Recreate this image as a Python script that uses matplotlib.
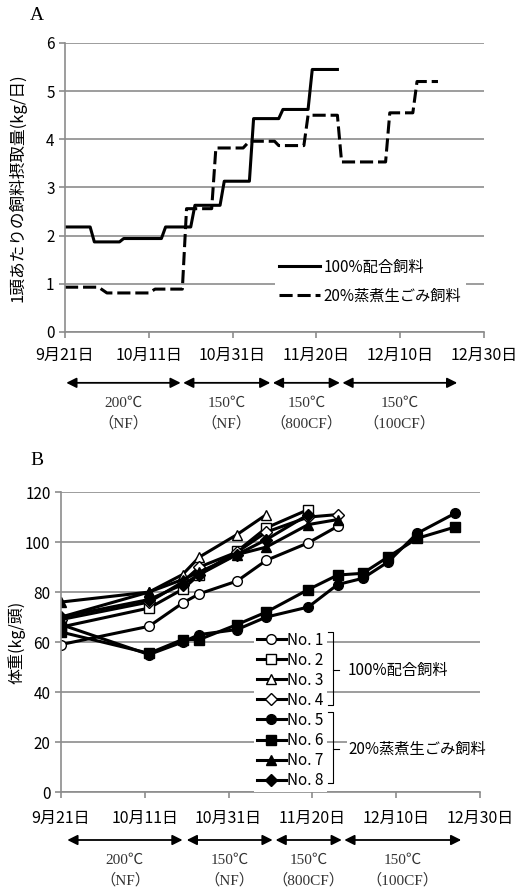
import matplotlib
matplotlib.use("Agg")
import matplotlib.pyplot as plt
from matplotlib.lines import Line2D

plt.rcParams['font.family'] = ['Noto Sans CJK JP', 'DejaVu Sans']
SERIF = ['Liberation Serif', 'Noto Sans CJK JP']

# ----- data (days counted from 9月21日) -----
date_labels = ["9月21日", "10月11日", "10月31日", "11月20日", "12月10日", "12月30日"]
date_ticks = [0, 20, 40, 60, 80, 100]

# A: feed intake per head (kg/day), step vertices
ctrl_days = [0, 6, 7, 13, 14, 23, 24, 30, 31, 37, 38, 44, 45, 51, 52, 58, 59, 65]
ctrl_vals = [2.18, 2.18, 1.87, 1.87, 1.94, 1.94, 2.18, 2.18, 2.63, 2.63,
             3.13, 3.13, 4.43, 4.43, 4.62, 4.62, 5.45, 5.45]
waste_days = [0, 8, 10, 20, 21.5, 28, 29, 35, 36, 42.5, 44, 50, 51, 57,
              58, 65, 66, 76.5, 77.5, 83, 84, 89]
waste_vals = [0.93, 0.93, 0.81, 0.81, 0.89, 0.89, 2.56, 2.56, 3.82, 3.82,
              3.96, 3.96, 3.87, 3.87, 4.50, 4.50, 3.53, 3.53, 4.55, 4.55,
              5.20, 5.20]

# B: body weight (kg/head)
weigh_days = [0, 21, 29, 33, 42, 49, 59, 66, 72, 78, 85, 94]
pig1 = [59, 66.3, 75.6, 79.3, 84.4, 92.7, 99.7, 106.3]
pig2 = [66, 73.6, 81.1, 87, 96.3, 105.7, 113]
pig3 = [70, 80, 87, 94, 103, 111]
pig4 = [69, 76, 84, 90, 96, 104, 110, 111]
pig5 = [67, 55, 60, 63, 65, 70, 74, 83, 85.5, 92, 103.5, 111.5]
pig6 = [64, 55.5, 61, 61, 67, 72, 81, 86.8, 87.5, 94, 101.5, 106]
pig7 = [76, 80, 85, 88, 95, 98, 107, 109]
pig8 = [70, 77, 83, 87, 95, 101, 111]

# feeding periods (temperature / fermentation)
period_a = [(0.3, 27.6), (28.2, 49.0), (49.6, 65.6), (66.2, 93.6)]
period_b = [(1.5, 29.0), (30.0, 50.5), (51.2, 67.0), (67.6, 95.5)]
period_temp = ["200℃", "150℃", "150℃", "150℃"]
period_type = ["（NF）", "（NF）", "（800CF）", "（100CF）"]

GRID = "#8c8c8c"


def style_axes(ax, ymax, ystep):
    ax.set_xlim(0, 100)
    ax.set_ylim(0, ymax)
    ax.set_yticks(range(0, ymax + 1, ystep))
    ax.set_xticks(date_ticks)
    ax.set_xticklabels(date_labels, fontsize=11.5)
    ax.yaxis.grid(True, color=GRID, lw=1.2)
    ax.set_axisbelow(True)
    for s in ["top", "right"]:
        ax.spines[s].set_visible(False)
    for s in ["left", "bottom"]:
        ax.spines[s].set_color(GRID)
        ax.spines[s].set_linewidth(1.2)
    ax.tick_params(axis="both", color=GRID, width=1.2, length=4)
    ax.tick_params(axis="y", labelsize=11)


def periods(ax, spans, y_arrow, y_t1, y_t2):
    tr = ax.get_xaxis_transform()
    for (x0, x1), t1, t2 in zip(spans, period_temp, period_type):
        ax.annotate("", xy=(x1, y_arrow), xytext=(x0, y_arrow), xycoords=tr,
                    textcoords=tr, annotation_clip=False,
                    arrowprops=dict(arrowstyle="<|-|>", color="black", lw=1.3,
                                    mutation_scale=15, shrinkA=0, shrinkB=0))
        xm = (x0 + x1) / 2
        ax.text(xm, y_t1, t1, transform=tr, ha="center", va="center",
                fontsize=11, family=SERIF, color="#333333")
        ax.text(xm, y_t2, t2, transform=tr, ha="center", va="center",
                fontsize=11, family=SERIF, color="#333333")


fig = plt.figure(figsize=(5.18, 8.9), dpi=100)

# ==========================================================
# A. feed intake
# ==========================================================
axA = fig.add_axes([0.1255, 0.627, 0.809, 0.3247])
style_axes(axA, 6, 1)
axA.tick_params(axis="x", pad=7)
axA.plot(ctrl_days, ctrl_vals, color="black", lw=2.2, label="100%配合飼料")
axA.plot(waste_days, waste_vals, color="black", lw=2.2, dashes=(4.3, 1.6),
         label="20%蒸煮生ごみ飼料")
axA.set_ylabel("1頭あたりの飼料摂取量(kg/日)", fontsize=12)
axA.yaxis.set_label_coords(-0.092, 0.5)
legA = axA.legend(loc="upper left", bbox_to_anchor=(0.50, 0.27), fontsize=11,
                  frameon=True, fancybox=False, edgecolor="none", framealpha=1,
                  handlelength=2.7, handletextpad=0.2, labelspacing=0.8,
                  borderpad=0.3, borderaxespad=0)
periods(axA, period_a, -0.176, -0.246, -0.315)
fig.text(0.072, 0.983, "A", family=SERIF, fontsize=14, ha="center", va="center")

# ==========================================================
# B. body weight
# ==========================================================
axB = fig.add_axes([0.1178, 0.1101, 0.809, 0.337])
style_axes(axB, 120, 20)
axB.tick_params(axis="x", pad=9)

pigs = [pig1, pig2, pig3, pig4, pig5, pig6, pig7, pig8]
markers = ["o", "s", "^", "D", "o", "s", "^", "D"]
sizes = [7, 7, 7.5, 6, 7, 7, 7.5, 6]
for i, (w, m, ms) in enumerate(zip(pigs, markers, sizes)):
    face = "white" if i < 4 else "black"
    axB.plot(weigh_days[:len(w)], w, color="black", lw=2.2, marker=m, ms=ms,
             mfc=face, mec="black", mew=1.0, label="No. %d" % (i + 1))

axB.set_ylabel("体重(kg/頭)", fontsize=11.5)
axB.yaxis.set_label_coords(-0.085, 0.5)
legB = axB.legend(loc="upper left", bbox_to_anchor=(0.46, 0.545), fontsize=11,
                  frameon=True, fancybox=False, edgecolor="none", framealpha=1,
                  handlelength=1.9, handletextpad=0.1, labelspacing=0.2,
                  borderpad=0.2, borderaxespad=0)

# group brackets next to the legend
tB = axB.transAxes
for top, bot, mid, txt in [(0.533, 0.29, 0.407, "100%配合飼料"),
                           (0.267, 0.03, 0.143, "20%蒸煮生ごみ飼料")]:
    axB.add_line(Line2D([0.637, 0.649, 0.649, 0.637], [top, top, bot, bot],
                        transform=tB, color="black", lw=0.8, clip_on=False))
    axB.add_line(Line2D([0.649, 0.664], [mid, mid], transform=tB,
                        color="black", lw=0.8, clip_on=False))
    axB.text(0.685, mid, txt, transform=tB, fontsize=11, ha="left", va="center",
             bbox=dict(facecolor="white", edgecolor="none", pad=1))

periods(axB, period_b, -0.16, -0.227, -0.293)
fig.text(0.072, 0.483, "B", family=SERIF, fontsize=14, ha="center", va="center")

fig.savefig("out.png", dpi=100)
